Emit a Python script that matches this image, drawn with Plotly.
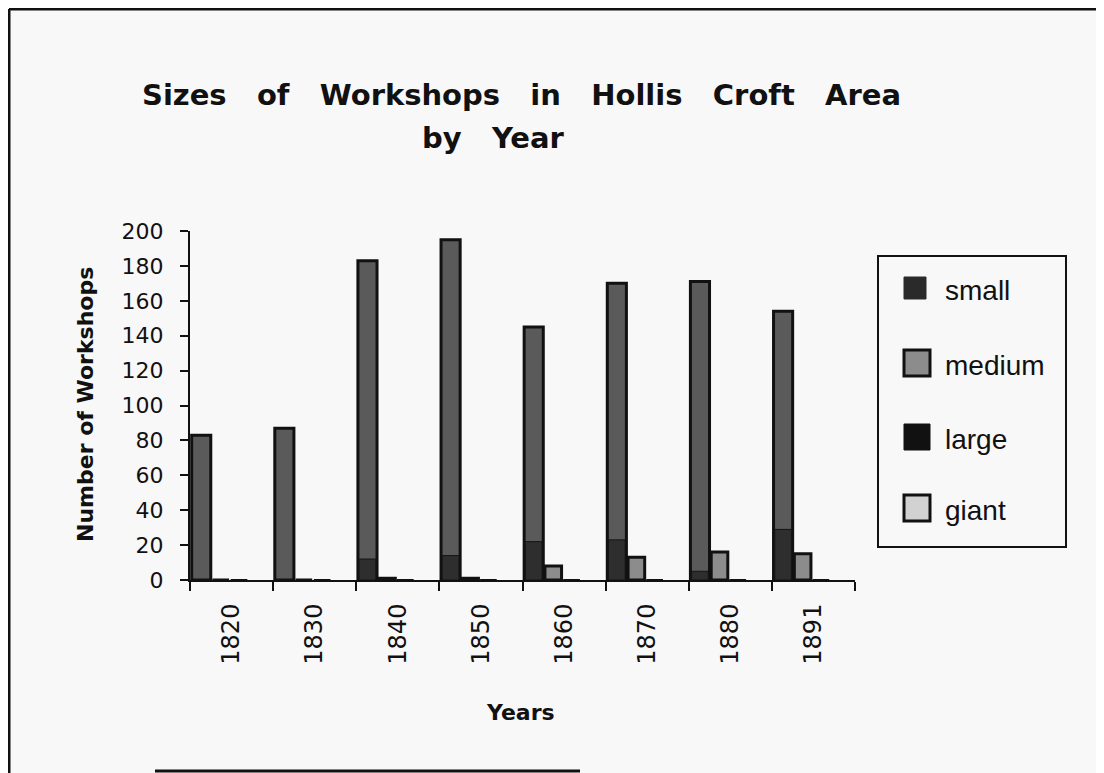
import plotly.graph_objects as go

years = ["1820", "1830", "1840", "1850", "1860", "1870", "1880", "1891"]
small = [83, 87, 183, 195, 145, 170, 171, 154]
medium = [0, 0, 1, 1, 8, 13, 16, 15]
large = [0, 0, 12, 14, 22, 23, 5, 29]
giant = [0, 0, 0, 0, 0, 0, 0, 0]
series_names = ["small", "medium", "large", "giant"]
y_ticks = [0, 20, 40, 60, 80, 100, 120, 140, 160, 180, 200]

# page offset of the plot div (browser body margin)
OFF = 8
W, H = 1104 - OFF, 773 - OFF
# plot area in page pixels
PL, PR, PT, PB = 190, 855, 231, 580
L, R, T, B = PL - OFF, PR - OFF, PT - OFF, PB - OFF


def px(x):
    return (x - OFF - L) / (R - L)


def py(y):
    return (B - (y - OFF)) / (B - T)


fig = go.Figure()
fig.add_trace(go.Bar(x=years, y=small, name="small", offset=-0.48, width=0.23,
                     marker=dict(color="#5a5a5a", line=dict(color="#111111", width=3)),
                     showlegend=False))
fig.add_trace(go.Bar(x=years, y=large, name="large", offset=-0.465, width=0.2,
                     marker=dict(color="#2e2e2e", line=dict(color="#151515", width=1)),
                     showlegend=False))
fig.add_trace(go.Bar(x=years, y=medium, name="medium", offset=-0.23, width=0.2,
                     marker=dict(color="#8c8c8c", line=dict(color="#111111", width=3)),
                     showlegend=False))
fig.add_trace(go.Bar(x=years, y=giant, name="giant", offset=-0.01, width=0.2,
                     marker=dict(color="#d2d2d2", line=dict(color="#111111", width=2)),
                     showlegend=False))

n = len(years)
bounds = [i - 0.5 for i in range(n + 1)]

fig.update_layout(
    width=W, height=H,
    margin=dict(l=L, r=W - R, t=T, b=H - B, pad=0),
    paper_bgcolor="#f8f8f8", plot_bgcolor="rgba(0,0,0,0)",
    barmode="overlay",
    showlegend=False,
    font=dict(family="DejaVu Sans", color="#111111"),
    xaxis=dict(type="category", categoryorder="array", categoryarray=years,
               range=[-0.5, n - 0.5], tickson="boundaries", ticks="outside",
               ticklen=9, tickwidth=2, tickcolor="#111111", showline=True,
               linecolor="#111111", linewidth=2, showgrid=False, zeroline=False,
               tickangle=-90, tickfont=dict(family="DejaVu Sans", size=24),
               ticklabelstandoff=12),
    xaxis2=dict(overlaying="x", anchor="y", side="bottom", range=[-0.5, n - 0.5],
                tickmode="array", tickvals=bounds, ticks="inside", ticklen=8,
                tickwidth=2, tickcolor="#111111", showticklabels=False,
                showline=False, showgrid=False, zeroline=False),
    yaxis=dict(range=[0, 200], tickmode="array", tickvals=y_ticks, ticks="outside",
               ticklen=8, tickwidth=2, tickcolor="#111111", showline=True,
               linecolor="#111111", linewidth=2, showgrid=False, zeroline=False,
               tickfont=dict(family="DejaVu Sans", size=22), ticklabelstandoff=12),
    yaxis2=dict(overlaying="y", anchor="x", side="left", range=[0, 200],
                tickmode="array", tickvals=y_ticks, ticks="inside", ticklen=7,
                tickwidth=2, tickcolor="#111111", showticklabels=False,
                showline=False, showgrid=False, zeroline=False),
)

sp = "\u00a0\u00a0\u00a0"
annotations = [
    dict(text=sp.join(["Sizes", "of", "Workshops", "in", "Hollis", "Croft", "Area"]),
         x=px(521), y=py(95), font=dict(family="DejaVu Sans", size=29, weight="bold")),
    dict(text=sp.join(["by", "Year"]), x=px(493), y=py(138),
         font=dict(family="DejaVu Sans", size=29, weight="bold")),
    dict(text="Number\u00a0of\u00a0Workshops", x=px(85), y=py(405), textangle=-90,
         font=dict(family="DejaVu Sans", size=22, weight="bold")),
    dict(text="Years", x=px(520), y=py(712),
         font=dict(family="DejaVu Sans", size=22, weight="bold")),
]
for a in annotations:
    a.update(xref="paper", yref="paper", showarrow=False, xanchor="center", yanchor="middle")

shapes = []
# outer frame (page pixels)
for (x0, y0, x1, y1) in [(9, 9, 1101, 9), (9, 9, 9, 773), (1101, 9, 1101, 700),
                         (155, 771, 580, 771)]:
    shapes.append(dict(type="line", xref="paper", yref="paper", x0=px(x0), y0=py(y0),
                       x1=px(x1), y1=py(y1), line=dict(color="#111111", width=3)))
# legend box
shapes.append(dict(type="rect", xref="paper", yref="paper", x0=px(878), y0=py(256),
                   x1=px(1066), y1=py(547), line=dict(color="#111111", width=2),
                   fillcolor="rgba(0,0,0,0)"))
legend_y = [288, 363, 437, 508]
legend_style = [("#2a2a2a", "#2a2a2a", 1), ("#8c8c8c", "#111111", 3),
                ("#111111", "#111111", 1), ("#d2d2d2", "#111111", 3)]
for name, cy, (fc, lc, lw) in zip(series_names, legend_y, legend_style):
    s = 22 if name == "small" else 26
    shapes.append(dict(type="rect", xref="paper", yref="paper",
                       x0=px(904), x1=px(904 + s), y0=py(cy - s / 2), y1=py(cy + s / 2),
                       fillcolor=fc, line=dict(color=lc, width=lw)))
    annotations.append(dict(text=name, x=px(943), y=py(cy + 2), xref="paper", yref="paper",
                            showarrow=False, xanchor="left", yanchor="middle",
                            font=dict(family="Liberation Sans", size=28)))

fig.update_layout(annotations=annotations, shapes=shapes)
fig.write_html("out.html")
